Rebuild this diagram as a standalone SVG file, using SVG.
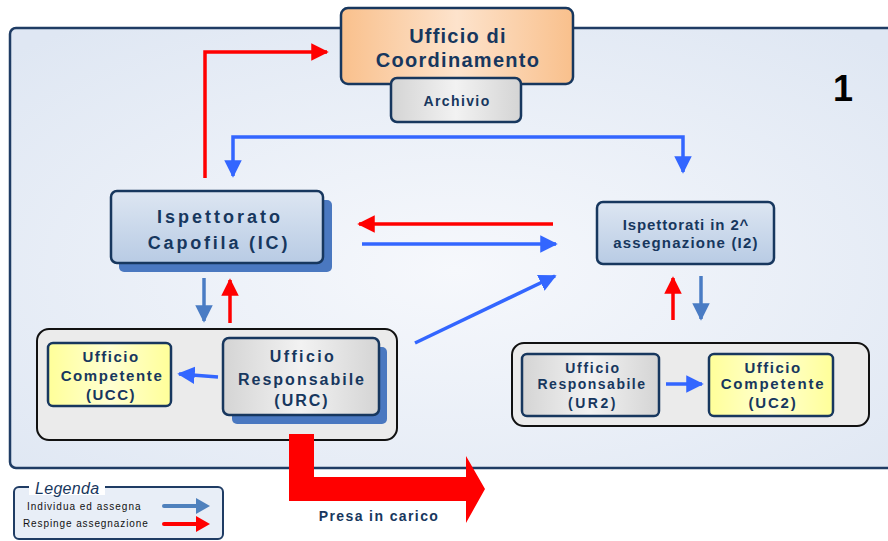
<svg xmlns="http://www.w3.org/2000/svg" width="888" height="541" viewBox="0 0 888 541">
<defs>
<radialGradient id="bg" cx="0.5" cy="0.55" r="0.7">
<stop offset="0" stop-color="#f6f8fc"/><stop offset="1" stop-color="#dfe7f3"/>
</radialGradient>
<linearGradient id="orange" x1="0" y1="0" x2="1" y2="0">
<stop offset="0" stop-color="#f9c08c"/><stop offset="0.5" stop-color="#fde3cc"/><stop offset="1" stop-color="#f9c08c"/>
</linearGradient>
<linearGradient id="gray" x1="0" y1="0" x2="1" y2="0">
<stop offset="0" stop-color="#d4d4d4"/><stop offset="0.5" stop-color="#f2f2f2"/><stop offset="1" stop-color="#d4d4d4"/>
</linearGradient>
<linearGradient id="bluebox" x1="0" y1="0" x2="0" y2="1">
<stop offset="0" stop-color="#dde6f2"/><stop offset="1" stop-color="#b8cbe4"/>
</linearGradient>
<linearGradient id="yellow" x1="0" y1="0" x2="1" y2="0">
<stop offset="0" stop-color="#ffff99"/><stop offset="0.5" stop-color="#ffffd2"/><stop offset="1" stop-color="#ffff99"/>
</linearGradient>
<marker id="hBlue" viewBox="0 0 10 10" refX="9" refY="5" markerWidth="5" markerHeight="5" orient="auto-start-reverse" markerUnits="strokeWidth"><path d="M0,0 L10,5 L0,10 z" fill="#3366ff"/></marker>
<marker id="hRed" viewBox="0 0 10 10" refX="9" refY="5" markerWidth="5" markerHeight="5" orient="auto" markerUnits="strokeWidth"><path d="M0,0 L10,5 L0,10 z" fill="#ff0000"/></marker>
<marker id="hSteel" viewBox="0 0 10 10" refX="9" refY="5" markerWidth="5" markerHeight="5" orient="auto" markerUnits="strokeWidth"><path d="M0,0 L10,5 L0,10 z" fill="#4a7cc4"/></marker>
</defs>
<style>
.box{stroke:#17375e;stroke-width:2.5}
.t{font-family:"Liberation Sans",Arial,sans-serif;font-weight:bold;fill:#17375e;text-anchor:middle}
.blue{stroke:#3366ff;stroke-width:3.5;fill:none;marker-end:url(#hBlue)}
.red{stroke:#ff0000;stroke-width:3.5;fill:none;marker-end:url(#hRed)}
.steel{stroke:#4a7cc4;stroke-width:3.5;fill:none;marker-end:url(#hSteel)}
.grp{fill:#ebebeb;stroke:#111;stroke-width:2}
.lg{font-family:"Liberation Sans",Arial,sans-serif;font-size:10px;fill:#111}
</style>
<rect x="0" y="0" width="888" height="541" fill="#ffffff"/>
<rect id="panel" x="10" y="28" width="890" height="440" rx="6" fill="url(#bg)" stroke="#1f3c64" stroke-width="2.5"/>
<text x="843" y="101" font-family="Liberation Sans,Arial,sans-serif" font-weight="bold" font-size="36" fill="#000" text-anchor="middle">1</text>

<g id="coordinamento">
<rect class="box" x="341" y="8" width="232" height="76" rx="7" fill="url(#orange)"/>
<text class="t" x="458" y="43" font-size="20" letter-spacing="1.2">Ufficio di</text>
<text class="t" x="458" y="67" font-size="20" letter-spacing="1.3">Coordinamento</text>
</g>
<g id="archivio">
<rect class="box" x="391" y="78" width="130" height="44" rx="6" fill="url(#gray)"/>
<text class="t" x="457" y="106" font-size="14" letter-spacing="1.4">Archivio</text>
</g>

<g id="ic">
<rect x="119" y="200" width="213" height="72" rx="5" fill="#4a78c0"/>
<rect class="box" x="111" y="191" width="212" height="72" rx="6" fill="url(#bluebox)"/>
<text class="t" x="220" y="223" font-size="18" letter-spacing="3">Ispettorato</text>
<text class="t" x="219" y="249" font-size="18" letter-spacing="2.8">Capofila (IC)</text>
</g>

<g id="i2">
<rect class="box" x="597" y="202" width="177" height="62" rx="6" fill="url(#bluebox)"/>
<text class="t" x="686" y="230" font-size="15" letter-spacing="0.9">Ispettorati in 2^</text>
<text class="t" x="686" y="248" font-size="15" letter-spacing="1.2">assegnazione (I2)</text>
</g>

<g id="grpLeft">
<rect class="grp" x="37" y="329" width="360" height="111" rx="12"/>
</g>
<g id="ucc">
<rect class="box" x="48" y="343" width="123" height="63" rx="5" fill="url(#yellow)"/>
<text class="t" x="111" y="362" font-size="15" letter-spacing="1.5">Ufficio</text>
<text class="t" x="112" y="381" font-size="15" letter-spacing="1.6">Competente</text>
<text class="t" x="111" y="400" font-size="15" letter-spacing="1.5">(UCC)</text>
</g>
<g id="urc">
<rect x="232" y="347" width="155" height="77" rx="5" fill="#4a78c0"/>
<rect class="box" x="223" y="338" width="156" height="77" rx="6" fill="url(#gray)"/>
<text class="t" x="303" y="362" font-size="16" letter-spacing="2.4">Ufficio</text>
<text class="t" x="302" y="385" font-size="16" letter-spacing="2">Responsabile</text>
<text class="t" x="302" y="406" font-size="16" letter-spacing="2">(URC)</text>
</g>

<g id="grpRight">
<rect class="grp" x="512" y="343" width="357" height="83" rx="12"/>
</g>
<g id="ur2">
<rect class="box" x="522" y="354" width="137" height="62" rx="5" fill="url(#gray)"/>
<text class="t" x="593" y="373" font-size="14" letter-spacing="1.7">Ufficio</text>
<text class="t" x="592" y="389" font-size="14" letter-spacing="1.5">Responsabile</text>
<text class="t" x="593" y="408" font-size="14" letter-spacing="2.5">(UR2)</text>
</g>
<g id="uc2">
<rect class="box" x="709" y="354" width="124" height="62" rx="5" fill="url(#yellow)"/>
<text class="t" x="773" y="373" font-size="15" letter-spacing="1.5">Ufficio</text>
<text class="t" x="773" y="389" font-size="15" letter-spacing="1.8">Competente</text>
<text class="t" x="773" y="408" font-size="15" letter-spacing="1.8">(UC2)</text>
</g>

<g id="presa">
<path d="M289,434 H314 V477 H466 V456 L485,489 L466,523 V501 H289 Z" fill="#ff0000"/>
<text class="t" x="379" y="521" font-size="14" letter-spacing="1.4">Presa in carico</text>
</g>

<g id="connectors">
<path class="red" d="M205,178 V52 H327"/>
<path class="blue" d="M233,176 V137 H683 V172" marker-start="url(#hBlue)"/>
<path class="red" d="M553,224 H359"/>
<path class="blue" d="M362,244 H556"/>
<path class="steel" d="M204,278 V321"/>
<path class="red" d="M230,323 V280"/>
<path class="blue" d="M415,343 L555,276"/>
<path class="red" d="M673,320 V278"/>
<path class="steel" d="M701,276 V319"/>
<path class="blue" d="M218,377 L179,374"/>
<path class="blue" d="M666,384 H702"/>
</g>

<g id="legenda">
<rect x="14" y="487" width="209" height="52" rx="5" fill="#e8eef7" stroke="#1f3c64" stroke-width="2"/>
<rect x="29" y="479" width="76" height="16" fill="#ffffff"/>
<text x="35" y="494" font-family="Liberation Sans,Arial,sans-serif" font-style="italic" font-size="16" fill="#17375e" letter-spacing="0.3">Legenda</text>
<text class="lg" x="27" y="510" letter-spacing="1">Individua ed assegna</text>
<text class="lg" x="23" y="527" letter-spacing="0.9">Respinge assegnazione</text>
<path d="M164,506 H199" stroke="#4f81bd" stroke-width="4" stroke-linecap="round"/>
<path d="M196,498 L210,506 L196,514 Z" fill="#4f81bd"/>
<path d="M164,524 H199" stroke="#ff0000" stroke-width="4" stroke-linecap="round"/>
<path d="M196,516 L210,524 L196,532 Z" fill="#ff0000"/>
</g>
</svg>
